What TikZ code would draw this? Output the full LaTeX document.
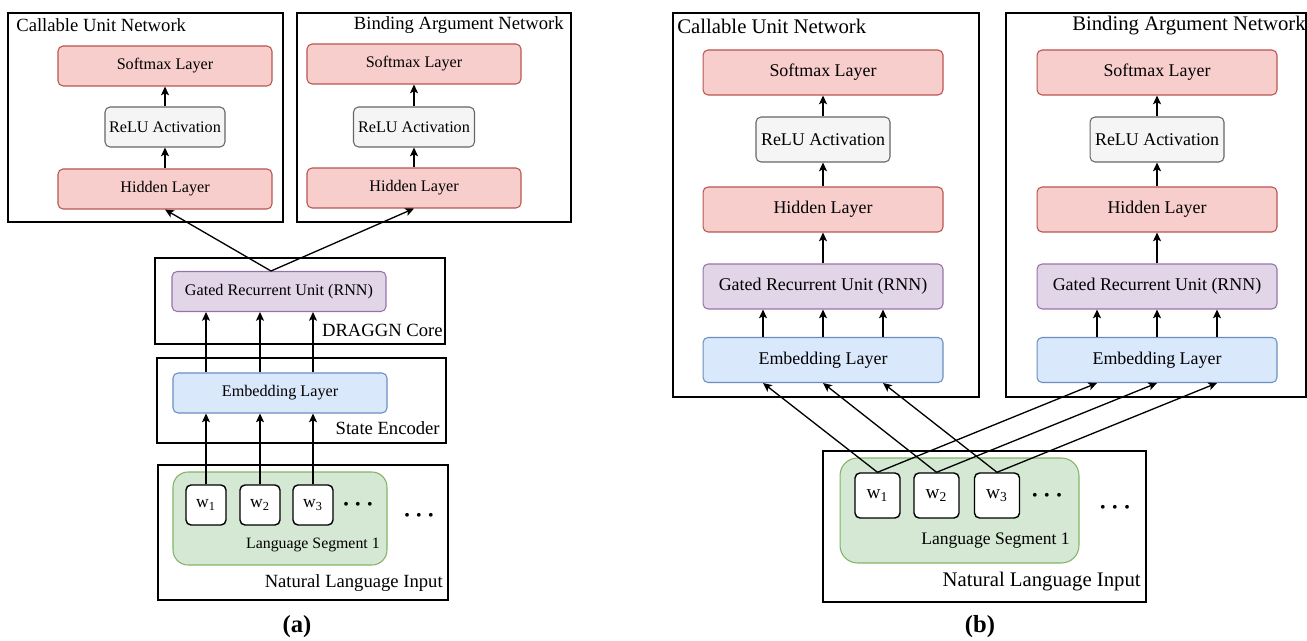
\documentclass[tikz,border=0pt]{standalone}
\usepackage{fontspec}
\setmainfont{Liberation Serif}
\usetikzlibrary{arrows.meta,calc}

\definecolor{redfill}{HTML}{F8CECC}
\definecolor{redline}{HTML}{B85450}
\definecolor{grayfill}{HTML}{F5F5F5}
\definecolor{grayline}{HTML}{666666}
\definecolor{purplefill}{HTML}{E1D5E7}
\definecolor{purpleline}{HTML}{9673A6}
\definecolor{bluefill}{HTML}{DAE8FC}
\definecolor{blueline}{HTML}{6C8EBF}
\definecolor{greenfill}{HTML}{D5E8D4}
\definecolor{greenline}{HTML}{82B366}

\begin{document}
\begin{tikzpicture}
	[x=0.02cm,y=-0.02cm,>={Stealth[length=5pt,width=4.6pt,inset=1.2pt]},
	 link/.style={->,line width=0.75pt},
	 frame/.style={draw,line width=0.8pt,inner sep=0pt},
	 layer/.style={draw,rounded corners=0.1cm,line width=0.6pt,inner sep=0pt},
	 redbox/.style={fill=redfill,draw=redline},
	 graybox/.style={fill=grayfill,draw=grayline},
	 purplebox/.style={fill=purplefill,draw=purpleline},
	 bluebox/.style={fill=bluefill,draw=blueline},
	 segbox/.style={draw=greenline,fill=greenfill,line width=0.6pt,rounded corners=0.3cm,inner sep=0pt},
	 layerA/.style={layer,minimum width=4.28cm,minimum height=0.8cm,font=\fontsize{9.2}{11}\selectfont},
	 layerB/.style={layer,minimum width=4.8cm,minimum height=0.9cm,font=\fontsize{10.2}{12}\selectfont},
	 titleA/.style={inner sep=0pt,font=\fontsize{10.6}{12}\selectfont},
	 titleB/.style={inner sep=0pt,font=\fontsize{11.8}{14}\selectfont},
	 wordA/.style={draw,fill=white,line width=0.8pt,rounded corners=0.1cm,minimum size=0.8cm,inner sep=0pt,font=\fontsize{10}{12}\selectfont},
	 wordB/.style={draw,fill=white,line width=0.8pt,rounded corners=0.1cm,minimum size=0.9cm,inner sep=0pt,font=\fontsize{11}{13}\selectfont},
	 dots/.style={inner sep=0pt,font=\fontsize{9}{10}\selectfont},
	 caption/.style={font=\bfseries\fontsize{14}{16}\selectfont}]
	\useasboundingbox (0,0) rectangle (1307,641);

	% (a) frames
	\node[frame,minimum width=5.5cm,minimum height=4.18cm] (aCallable) at (145.5,117.5) {};
	\node[frame,minimum width=5.48cm,minimum height=4.18cm] (aBinding) at (434,117.5) {};
	\node[frame,minimum width=5.8cm,minimum height=1.72cm] (aCore) at (300,301) {};
	\node[frame,minimum width=5.78cm,minimum height=1.7cm] (aEncoder) at (301.5,400.5) {};
	\node[frame,minimum width=5.8cm,minimum height=2.7cm] (aInput) at (303,532.5) {};
	\node[titleA,anchor=west] (aCallableT) at (16,25) {Callable Unit Network};
	\node[titleA,anchor=east] (aBindingT) at (564,25) {Binding Argument Network};
	\node[titleA,anchor=east] (aCoreT) at (443,330) {DRAGGN Core};
	\node[titleA,anchor=east] (aEncoderT) at (440,428) {State Encoder};
	\node[titleA,anchor=east] (aInputT) at (443,583) {Natural Language Input};

	% (a) layers
	\node[layerA,redbox] (aSoftC) at (165,66) {Softmax Layer};
	\node[layerA,graybox,minimum width=2.4cm] (aReluC) at (165,127) {ReLU Activation};
	\node[layerA,redbox] (aHidC) at (165,189) {Hidden Layer};
	\node[layerA,redbox] (aSoftB) at (414,64) {Softmax Layer};
	\node[layerA,graybox,minimum width=2.42cm] (aReluB) at (414,127) {ReLU Activation};
	\node[layerA,redbox] (aHidB) at (414,188) {Hidden Layer};
	\node[layerA,purplebox] (aGru) at (279,291.5) {Gated Recurrent Unit (RNN)};
	\node[layerA,bluebox] (aEmb) at (280,393) {Embedding Layer};

	\node[segbox,minimum width=4.28cm,minimum height=1.86cm] (aSeg) at (280,518.5) {};
	\node[wordA] (aW1) at (206,505) {w\textsubscript{1}};
	\node[wordA] (aW2) at (260,505) {w\textsubscript{2}};
	\node[wordA] (aW3) at (313,505) {w\textsubscript{3}};
	\node[dots] (aDots1) at (358,506) {\textbullet\hspace{3.6pt}\textbullet\hspace{3.6pt}\textbullet};
	\node[dots] (aDots2) at (419,517) {\textbullet\hspace{3.6pt}\textbullet\hspace{3.6pt}\textbullet};
	\node[inner sep=0pt,anchor=east,font=\fontsize{9}{11}\selectfont] (aSegT) at (380,545) {Language Segment 1};
	\coordinate (aSplit) at (271,271);

	\foreach \from/\to in {aHidC/aReluC,aReluC/aSoftC,aHidB/aReluB,aReluB/aSoftB}
	\draw[link] (\from) -- (\to);
	\draw[link] (aSplit) -- (aHidC.south);
	\draw[link] (aSplit) -- (aHidB.south);
	\foreach \i in {1,2,3} {
		\draw[link] (aW\i.north) -- (aW\i.north |- aEmb.south);
		\draw[link] (aW\i.north |- aEmb.north) -- (aW\i.north |- aGru.south);
	}

	% (b) frames
	\node[frame,minimum width=6.12cm,minimum height=7.68cm] (bCallable) at (826,205) {};
	\node[frame,minimum width=6.0cm,minimum height=7.68cm] (bBinding) at (1156,205) {};
	\node[frame,minimum width=6.46cm,minimum height=3.02cm] (bInput) at (984.5,526.5) {};
	\node[titleB,anchor=west] (bCallableT) at (677,26) {Callable Unit Network};
	\node[titleB,anchor=east] (bBindingT) at (1306,26) {Binding Argument Network};
	\node[titleB,anchor=east] (bInputT) at (1141,582) {Natural Language Input};

	% (b) layers
	\node[layerB,redbox] (bSoftC) at (823,72.5) {Softmax Layer};
	\node[layerB,graybox,minimum width=2.68cm] (bReluC) at (823,139.5) {ReLU Activation};
	\node[layerB,redbox] (bHidC) at (823,209.5) {Hidden Layer};
	\node[layerB,purplebox] (bGruC) at (823,286.5) {Gated Recurrent Unit (RNN)};
	\node[layerB,bluebox] (bEmbC) at (823,360) {Embedding Layer};
	\node[layerB,redbox] (bSoftB) at (1157,72.5) {Softmax Layer};
	\node[layerB,graybox,minimum width=2.68cm] (bReluB) at (1157,139.5) {ReLU Activation};
	\node[layerB,redbox] (bHidB) at (1157,209.5) {Hidden Layer};
	\node[layerB,purplebox] (bGruB) at (1157,286.5) {Gated Recurrent Unit (RNN)};
	\node[layerB,bluebox] (bEmbB) at (1157,360) {Embedding Layer};

	\node[segbox,rounded corners=0.35cm,minimum width=4.78cm,minimum height=2.1cm] (bSeg) at (959.5,510.5) {};
	\node[wordB] (bW1) at (877.5,495.5) {w\textsubscript{1}};
	\node[wordB] (bW2) at (936.5,495.5) {w\textsubscript{2}};
	\node[wordB] (bW3) at (997,495.5) {w\textsubscript{3}};
	\node[dots] (bDots1) at (1047,497) {\textbullet\hspace{3.8pt}\textbullet\hspace{3.8pt}\textbullet};
	\node[dots] (bDots2) at (1115,509) {\textbullet\hspace{3.8pt}\textbullet\hspace{3.8pt}\textbullet};
	\node[inner sep=0pt,anchor=east,font=\fontsize{10}{12}\selectfont] (bSegT) at (1070,541) {Language Segment 1};

	\foreach \from/\to in {bEmbC/bGruC,bGruC/bHidC,bHidC/bReluC,bReluC/bSoftC,bEmbB/bGruB,bGruB/bHidB,bHidB/bReluB,bReluB/bSoftB}
	\draw[link] (\from) -- (\to);
	\foreach \i/\dx in {1/-1.2cm,3/1.2cm} {
		\draw[link] ([xshift=\dx]bEmbC.north) -- ([xshift=\dx]bGruC.south);
		\draw[link] ([xshift=\dx]bEmbB.north) -- ([xshift=\dx]bGruB.south);
	}
	\foreach \i/\dx in {1/-1.2cm,2/0cm,3/1.2cm} {
		\draw[link] (bW\i.north) -- ([xshift=\dx]bEmbC.south);
		\draw[link] (bW\i.north) -- ([xshift=\dx]bEmbB.south);
	}

	\node[caption] (capA) at (297,627) {(a)};
	\node[caption] (capB) at (980,627) {(b)};
\end{tikzpicture}
\end{document}
